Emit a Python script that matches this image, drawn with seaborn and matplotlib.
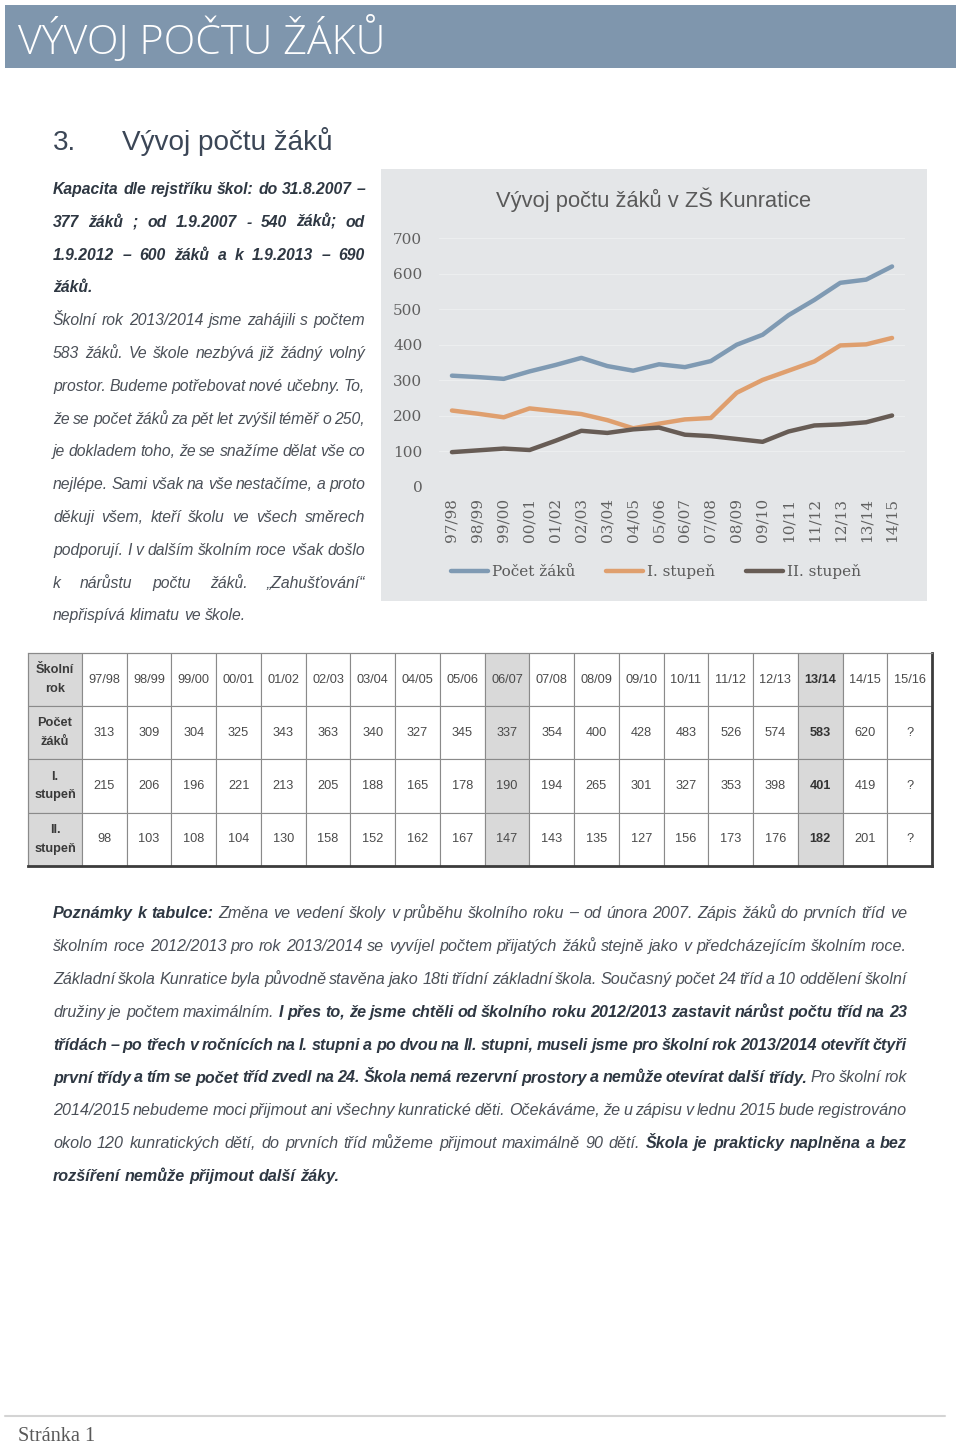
import matplotlib
matplotlib.use('Agg')
import matplotlib.pyplot as plt
import numpy as np
import pandas as pd
import seaborn as sns
from matplotlib import font_manager
from matplotlib.font_manager import FontProperties
from matplotlib.patches import Rectangle
from matplotlib.lines import Line2D

# ---------------- data ----------------
school_years = ['97/98', '98/99', '99/00', '00/01', '01/02', '02/03', '03/04', '04/05', '05/06',
                '06/07', '07/08', '08/09', '09/10', '10/11', '11/12', '12/13', '13/14', '14/15']
total_pupils = [313, 309, 304, 325, 343, 363, 340, 327, 345, 337, 354, 400, 428, 483, 526, 574, 583, 620]
stage_one = [215, 206, 196, 221, 213, 205, 188, 165, 178, 190, 194, 265, 301, 327, 353, 398, 401, 419]
stage_two = [98, 103, 108, 104, 130, 158, 152, 162, 167, 147, 143, 135, 127, 156, 173, 176, 182, 201]
series_names = ['Počet žáků', 'I. stupeň', 'II. stupeň']
y_ticks = [0, 100, 200, 300, 400, 500, 600, 700]
table_years = school_years + ['15/16']
table_unknown = '?'
row_labels = ['Školní\nrok', 'Počet\nžáků', 'I.\nstupeň', 'II.\nstupeň']
highlight_years = ['06/07', '13/14']
bold_year = '13/14'

# ---------------- setup ----------------
sns.set_theme(style='white')
names = {f.name for f in font_manager.fontManager.ttflist}
SANS = 'Liberation Sans Narrow' if 'Liberation Sans Narrow' in names else 'Liberation Sans'
SERIF = 'DejaVu Serif'
LIGHT = 'Open Sans' if 'Open Sans' in names else SANS
plt.rcParams['font.family'] = [SANS, 'DejaVu Sans']

W, H = 960, 1446
fig = plt.figure(figsize=(W / 100, H / 100), dpi=100, facecolor='white')
renderer = fig.canvas.get_renderer()


def fx(x):
    return x / W


def fy(y):
    return 1 - y / H


def prop(size, bold=False, italic=False, family=None, weight=None):
    return FontProperties(family=family or [SANS, 'DejaVu Sans'], size=size,
                          weight=weight if weight is not None else ('bold' if bold else 'normal'),
                          style='italic' if italic else 'normal')


def measure(s, p):
    return renderer.get_text_width_height_descent(s, p, ismath=False)[0]


def fit(s, target, bold=False, italic=False, family=None, weight=None, base=20.0):
    return base * target / measure(s, prop(base, bold, italic, family, weight))


# ---------------- header ----------------
fig.add_artist(Rectangle((fx(5), fy(68)), 951 / W, 63 / H, transform=fig.transFigure,
                         facecolor='#7f96ad', edgecolor='none', zorder=-2))
s = fit('VÝVOJ POČTU ŽÁKŮ', 367, family=[LIGHT, 'DejaVu Sans'], weight='light')
fig.text(fx(18), fy(54), 'VÝVOJ POČTU ŽÁKŮ',
         fontproperties=prop(s, family=[LIGHT, 'DejaVu Sans'], weight='light'),
         color='white', va='baseline')

s = fit('Vývoj počtu žáků', 210)
fig.text(fx(53), fy(150), '3.', fontproperties=prop(s), color='#3b4656', va='baseline')
fig.text(fx(122), fy(150), 'Vývoj počtu žáků', fontproperties=prop(s), color='#3b4656', va='baseline')

# ---------------- chart ----------------
panel = Rectangle((fx(381), fy(601)), 546 / W, 432 / H, transform=fig.transFigure,
                  facecolor='#e4e6e8', edgecolor='none', zorder=-1)
fig.add_artist(panel)
s = fit('Vývoj počtu žáků v ZŠ Kunratice', 314)
fig.text(fx(654), fy(200), 'Vývoj počtu žáků v ZŠ Kunratice', fontproperties=prop(s),
         color='#595959', ha='center', va='center')

palette = {'Počet žáků': '#7f9ab3', 'I. stupeň': '#df9f6e', 'II. stupeň': '#675c55'}
df = pd.DataFrame({
    'rok': school_years * 3,
    'pocet': total_pupils + stage_one + stage_two,
    'serie': [n for n in series_names for _ in school_years],
})
ax = fig.add_axes([fx(439), fy(487), 466 / W, 249 / H])
ax.set_facecolor('none')
sns.lineplot(data=df, x='rok', y='pocet', hue='serie', palette=palette, linewidth=3.2,
             sort=False, errorbar=None, legend=False, ax=ax)
ax.set_xlim(-0.5, len(school_years) - 0.5)
ax.set_ylim(0, 700)
ax.set_yticks(y_ticks)
ax.set_xticks(range(len(school_years)))
tick_fp = prop(11, family=[SERIF])
ax.set_xticklabels(school_years, rotation=90, fontproperties=tick_fp, color='#606060')
ax.set_yticklabels([str(v) for v in y_ticks], fontproperties=tick_fp, color='#606060')
ax.tick_params(axis='x', length=0, pad=8)
ax.tick_params(axis='y', length=0, pad=12)
ax.set_xlabel('')
ax.set_ylabel('')
ax.yaxis.grid(True, color='#eceeef', linewidth=0.8)
ax.set_axisbelow(True)
for sp in ax.spines.values():
    sp.set_visible(False)

handles = [Line2D([], [], color=palette[n], linewidth=3.2) for n in series_names]
fig.legend(handles, series_names, loc='center', bbox_to_anchor=(fx(656), fy(572)), ncol=3,
           frameon=False, prop=prop(11, family=[SERIF]), handlelength=2.4, handletextpad=0.3,
           columnspacing=2.0, labelcolor='#595959')

# ---------------- table ----------------
tax = fig.add_axes([fx(28), fy(866), 904 / W, 213 / H])
tax.set_facecolor('none')
tax.set_xticks([])
tax.set_yticks([])
cell_rows = [
    [row_labels[0]] + table_years,
    [row_labels[1]] + [str(v) for v in total_pupils] + [table_unknown],
    [row_labels[2]] + [str(v) for v in stage_one] + [table_unknown],
    [row_labels[3]] + [str(v) for v in stage_two] + [table_unknown],
]
col_w = np.array([54.0] + [850.0 / 19] * 19)
col_w = list(col_w / col_w.sum())
tbl = tax.table(cellText=cell_rows, colWidths=col_w, bbox=[0, 0, 1, 1], cellLoc='center')
tbl.auto_set_font_size(False)
tsize = fit('97/98', 32)
for (r, c), cell in tbl.get_celld().items():
    cell.set_edgecolor('#8a8a8a')
    cell.set_linewidth(0.8)
    txt = cell.get_text()
    txt.set_fontproperties(prop(tsize))
    txt.set_color('#4a4a4a')
    if c == 0:
        cell.set_facecolor('#d9d9d9')
        txt.set_fontweight('bold')
        txt.set_color('#3a3a3a')
        txt.set_linespacing(1.75)
    else:
        yr = table_years[c - 1]
        cell.set_facecolor('#d9d9d9' if yr in highlight_years else 'white')
        if yr == bold_year:
            txt.set_fontweight('bold')
            txt.set_color('#333333')
for name, sp in tax.spines.items():
    sp.set_visible(True)
    if name in ('bottom', 'right'):
        sp.set_color('#3c3c3c')
        sp.set_linewidth(2.0)
    else:
        sp.set_color('#8a8a8a')
        sp.set_linewidth(0.8)

# ---------------- paragraphs ----------------
left_par = [
    ([("Kapacita dle rejstříku škol: do 31.8.2007 –", True)], True),
    ([("377 žáků ; od 1.9.2007 - 540 žáků; od", True)], True),
    ([("1.9.2012 – 600 žáků a k 1.9.2013 – 690", True)], True),
    ([("žáků.", True)], False),
    ([("Školní rok 2013/2014 jsme zahájili s počtem", False)], True),
    ([("583 žáků. Ve škole nezbývá již žádný volný", False)], True),
    ([("prostor. Budeme potřebovat nové učebny. To,", False)], True),
    ([("že se počet žáků za pět let zvýšil téměř o 250,", False)], True),
    ([("je dokladem toho, že se snažíme dělat vše co", False)], True),
    ([("nejlépe. Sami však na vše nestačíme, a proto", False)], True),
    ([("děkuji všem, kteří školu ve všech směrech", False)], True),
    ([("podporují. I v dalším školním roce však došlo", False)], True),
    ([("k nárůstu počtu žáků. „Zahušťování“", False)], True),
    ([("nepřispívá klimatu ve škole.", False)], False),
]
bottom_par = [
    ([("Poznámky k tabulce:", True),
      ("Změna ve vedení školy v průběhu školního roku – od února 2007. Zápis žáků do prvních tříd ve", False)], True),
    ([("školním roce 2012/2013 pro rok 2013/2014 se vyvíjel počtem přijatých žáků stejně jako v předcházejícím školním roce.", False)], True),
    ([("Základní škola Kunratice byla původně stavěna jako 18ti třídní základní škola. Současný počet 24 tříd a 10 oddělení školní", False)], True),
    ([("družiny je počtem maximálním.", False),
      ("I přes to, že jsme chtěli od školního roku 2012/2013 zastavit nárůst počtu tříd na 23", True)], True),
    ([("třídách – po třech v ročnících na I. stupni a po dvou na II. stupni, museli jsme pro školní rok 2013/2014 otevřít čtyři", True)], True),
    ([("první třídy a tím se počet tříd zvedl na 24. Škola nemá rezervní prostory a nemůže otevírat další třídy.", True),
      ("Pro školní rok", False)], True),
    ([("2014/2015 nebudeme moci přijmout ani všechny kunratické děti. Očekáváme, že u zápisu v lednu 2015 bude registrováno", False)], True),
    ([("okolo 120 kunratických dětí, do prvních tříd můžeme přijmout maximálně 90 dětí.", False),
      ("Škola je prakticky naplněna a bez", True)], True),
    ([("rozšíření nemůže přijmout další žáky.", True)], False),
]


def words_of(segs, size):
    out = []
    for seg, b in segs:
        p = prop(size, b, True)
        for w in seg.split():
            out.append((w, b, measure(w, p)))
    return out


def space_w(size, b):
    p = prop(size, b, True)
    return measure('x x', p) - measure('xx', p)


def natural_ratio(lines, size, width, space_factor=0.75):
    r = 0
    for segs, just in lines:
        if not just:
            continue
        ws = words_of(segs, size)
        tot = sum(w for _, _, w in ws) + space_factor * sum(space_w(size, b) for _, b, _ in ws[:-1])
        r = max(r, tot / width)
    return r


def draw_par(lines, x0, x1, y0, dy, size, c_reg, c_bold):
    width = x1 - x0
    for i, (segs, just) in enumerate(lines):
        ws = words_of(segs, size)
        y = y0 + i * dy
        gap = None
        if just and len(ws) > 1:
            gap = (width - sum(w for _, _, w in ws)) / (len(ws) - 1)
        x = x0
        for t, b, w in ws:
            fig.text(fx(x), fy(y), t, fontproperties=prop(size, b, True),
                     color=c_bold if b else c_reg, va='baseline', ha='left')
            x += w + (gap if gap is not None else space_w(size, b))


base = 12.0
size_left = base / natural_ratio(left_par, base, 312)
size_bottom = base / natural_ratio(bottom_par, base, 854)
draw_par(left_par, 53, 365, 194, 32.8, size_left, '#4b5058', '#2e3742')
draw_par(bottom_par, 53, 907, 918, 32.9, size_bottom, '#4b5058', '#2e3742')

# ---------------- footer ----------------
fig.add_artist(Line2D([fx(5), fx(945)], [fy(1416), fy(1416)], transform=fig.transFigure,
                      color='#d4d4d4', linewidth=1.5))
s = fit('Stránka 1', 77, family=['Liberation Serif'])
fig.text(fx(18), fy(1441), 'Stránka 1', fontproperties=prop(s, family=['Liberation Serif']),
         color='#595959', va='baseline')

fig.savefig('out.png', dpi=100, facecolor='white')
